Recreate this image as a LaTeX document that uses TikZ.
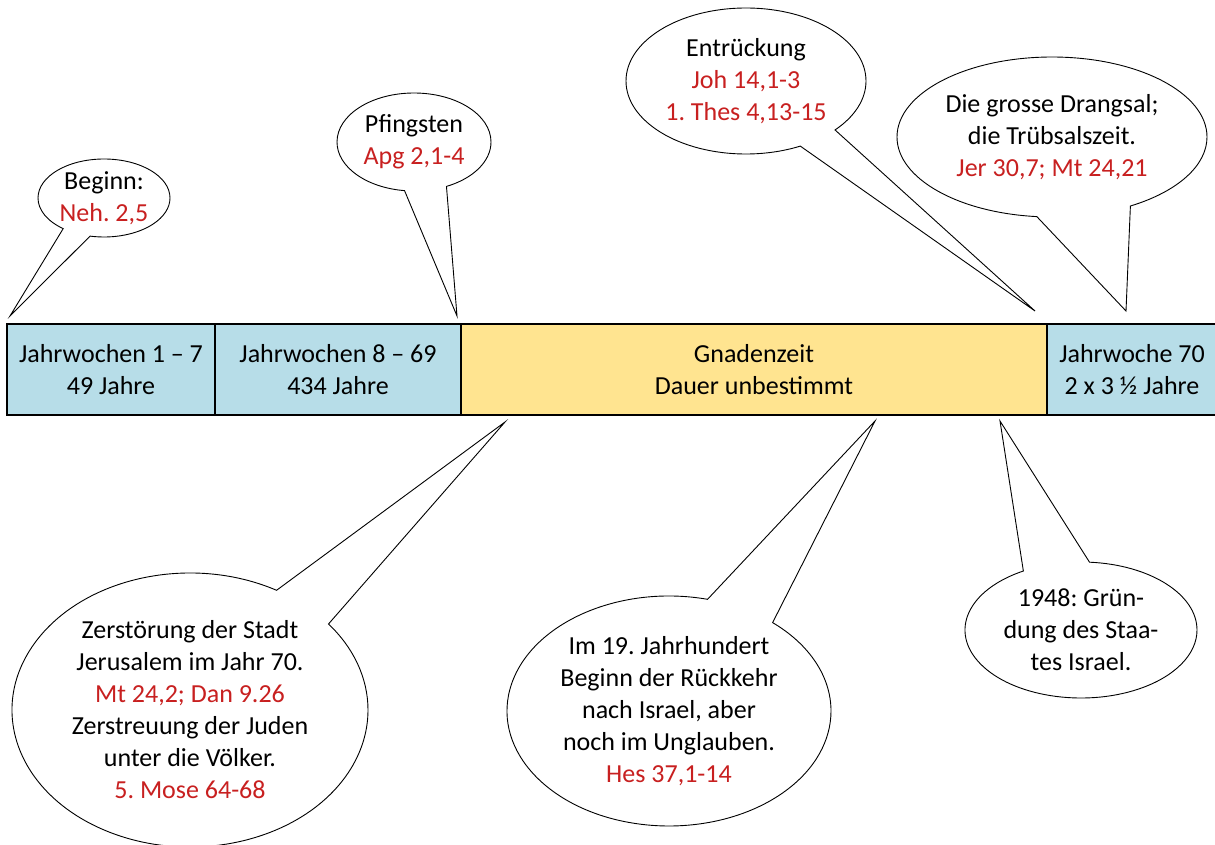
\documentclass[tikz,border=0pt]{standalone}
\usepackage{fontspec}
\setmainfont{Carlito}
\usetikzlibrary{shapes.callouts}
\definecolor{wochenblau}{HTML}{B7DDE8}
\definecolor{gnadengelb}{HTML}{FFE490}
\definecolor{stellenrot}{HTML}{C82020}
\newcommand{\stelle}[1]{\textcolor{stellenrot}{#1}}
\frenchspacing

\begin{document}
\begin{tikzpicture}[x=1pt,y=-1pt,
  abschnitt/.style={draw,line width=2.2pt,minimum height=91pt,inner sep=0pt,align=center,
    font=\fontsize{26}{32}\selectfont},
  blase/.style={ellipse callout,draw,fill=white,line width=0.9pt,inner sep=0pt},
  txt/.style={align=center,font=\fontsize{26}{32}\selectfont}]
  \useasboundingbox (0,0) rectangle (1215,845);

  % Zeitleiste
  \node[abschnitt,fill=wochenblau,minimum width=208pt] (woche1) at (111,369.5) {Jahrwochen 1 -- 7\\49 Jahre};
  \node[abschnitt,fill=wochenblau,minimum width=246pt] (woche2) at (338,369.5) {Jahrwochen 8 -- 69\\434 Jahre};
  \node[abschnitt,fill=gnadengelb,minimum width=586pt] (gnade) at (754,369.5) {Gnadenzeit\\Dauer unbestimmt};
  \node[abschnitt,fill=wochenblau,minimum width=170pt] (woche70) at (1132,369.5) {Jahrwoche 70\\2 x 3 ½ Jahre};

  % Spitzen der Sprechblasen
  \coordinate (beginnpt) at (10,316);
  \coordinate (pfingstpt) at (457,316);
  \coordinate (entrpt) at (1035,311);
  \coordinate (drangpt) at (1126,311);
  \coordinate (zerstpt) at (505,422);
  \coordinate (rueckpt) at (875,421);
  \coordinate (israelpt) at (1000,421);

  % oben
  \node[blase,minimum width=132pt,minimum height=78pt,callout absolute pointer={(beginnpt)},
    callout pointer arc=26] (beginn) at (104,198) {};
  \node[txt] at (beginn) {Beginn:\\\stelle{Neh. 2,5}};
  \node[blase,minimum width=154pt,minimum height=98pt,callout absolute pointer={(pfingstpt)},
    callout pointer arc=32] (pfingsten) at (414,142) {};
  \node[txt] at (pfingsten) {Pfingsten\\\stelle{Apg 2,1-4}};
  \node[blase,minimum width=240pt,minimum height=146pt,callout absolute pointer={(entrpt)},
    callout pointer arc=21] (entr) at (746,81) {};
  \node[txt] at (entr) {Entrückung\\\stelle{Joh 14,1-3}\\\stelle{1. Thes 4,13-15}};
  \node[blase,minimum width=310pt,minimum height=160pt,callout absolute pointer={(drangpt)},
    callout pointer arc=36] (drang) at (1052,137) {};
  \node[txt] at (drang) {Die grosse Drangsal;\\die Trübsalszeit.\\\stelle{Jer 30,7; Mt 24,21}};

  % unten
  \node[blase,minimum width=356pt,minimum height=274pt,callout absolute pointer={(zerstpt)},
    callout pointer arc=22] (zerst) at (190,710) {};
  \node[txt] at (zerst) {Zerstörung der Stadt\\Jerusalem im Jahr 70.\\\stelle{Mt 24,2; Dan 9.26}\\
    Zerstreuung der Juden\\unter die Völker.\\\stelle{5. Mose 64-68}};
  \node[blase,minimum width=324pt,minimum height=230pt,callout absolute pointer={(rueckpt)},
    callout pointer arc=26] (rueck) at (669,711) {};
  \node[txt] at (rueck) {Im 19. Jahrhundert\\Beginn der Rückkehr\\nach Israel, aber\\
    noch im Unglauben.\\\stelle{Hes 37,1-14}};
  \node[blase,minimum width=232pt,minimum height=136pt,callout absolute pointer={(israelpt)},
    callout pointer arc=34] (israel) at (1081,630) {};
  \node[txt] at (israel) {1948: Grün-\\dung des Staa-\\tes Israel.};
\end{tikzpicture}
\end{document}
